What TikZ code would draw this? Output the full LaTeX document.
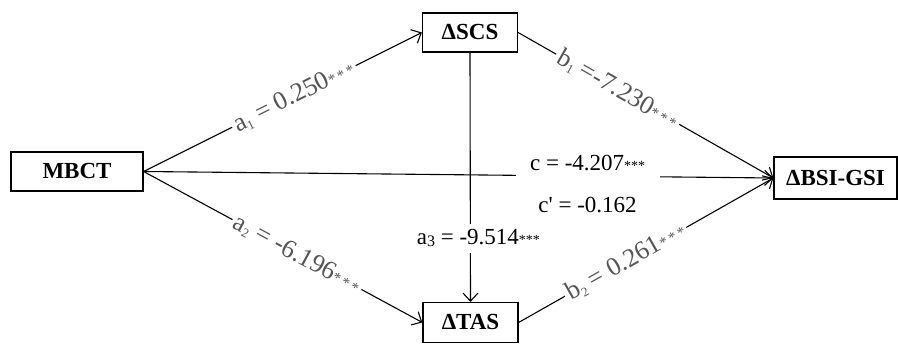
\documentclass[tikz,border=0pt]{standalone}
\usepackage{fontspec}
\setmainfont{Liberation Serif}
\usetikzlibrary{arrows.meta}
\definecolor{lblgray}{RGB}{85,85,85}
\newcommand{\stars}{{\fontsize{14}{14}\selectfont ***}}
\newcommand{\gstars}{{\fontsize{15}{15}\selectfont *\,*\,*}}
\newcommand{\sbs}[1]{\raisebox{-3.5pt}{\fontsize{13}{13}\selectfont #1}}
\newcommand{\sbsb}[1]{\raisebox{-2pt}{\fontsize{16}{16}\selectfont #1}}
\begin{document}
\begin{tikzpicture}[x=1pt,y=1pt,
  box/.style={draw, line width=1.2pt, inner sep=0pt, font=\fontsize{23}{23}\selectfont\bfseries},
  conn/.style={line width=1.1pt, -{Straight Barb[length=8pt,width=15pt,line width=1.1pt]}},
  glabel/.style={sloped, fill=white, text=lblgray, inner sep=3pt, font=\fontsize{26}{26}\selectfont},
  blabel/.style={fill=white, font=\fontsize{23}{23}\selectfont}]
\useasboundingbox (0,0) rectangle (898,345);
\node[box, minimum width=132pt, minimum height=39pt] (mbct) at (77,173.5) {MBCT};
\node[box, minimum width=95pt, minimum height=39pt] (scs) at (470,312.5) {ΔSCS};
\node[box, minimum width=95pt, minimum height=40pt] (tas) at (470.5,22.5) {ΔTAS};
\node[box, minimum width=123pt, minimum height=42pt] (bsi) at (835.5,167) {ΔBSI-GSI};

\draw[conn] (mbct.east) -- node[glabel, pos=0.54] (la1) {a\sbs{1} = 0.250\gstars} (scs.west);
\draw[conn] (mbct.east) -- node[glabel, pos=0.55] (la2) {a\sbs{2} = -6.196\gstars} (tas.west);
\draw[conn] (scs.east) -- node[glabel, pos=0.39] (lb1) {b\sbs{1} =-7.230\gstars} (bsi.west);
\draw[conn] (tas.east) -- node[glabel, pos=0.42] (lb2) {b\sbs{2} = 0.261\gstars} (bsi.west);
\draw[conn] (mbct.east) -- node[pos=0.705, fill=white, minimum width=144pt, minimum height=8pt, inner sep=0pt] (cgap) {} (bsi.west);
\node[font=\fontsize{23}{23}\selectfont, inner sep=0pt] (clab) at ([yshift=13pt]cgap.center) {c = -4.207\stars};
\node[font=\fontsize{23}{23}\selectfont, inner sep=0pt] (cplab) at ([yshift=-29pt]cgap.center) {c\textquotesingle{} = -0.162};
\draw[conn] (scs.south) -- node[blabel, pos=0.745, xshift=8pt, inner xsep=2pt, inner ysep=6pt] (la3) {a\sbsb{3} = -9.514\stars} (tas.north);
\end{tikzpicture}
\end{document}
